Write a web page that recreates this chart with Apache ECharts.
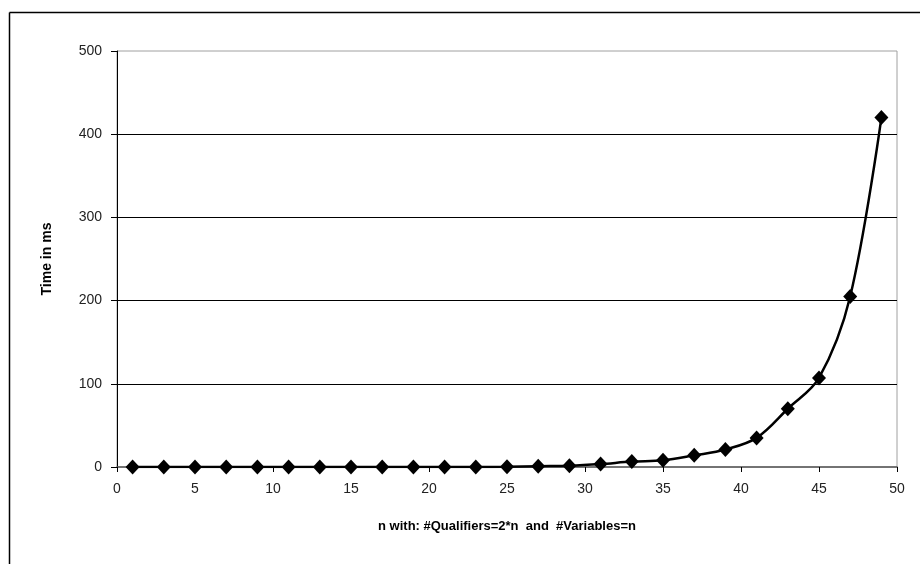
<!DOCTYPE html>
<html>
<head>
<meta charset="utf-8">
<script src="https://cdn.jsdelivr.net/npm/echarts@6/dist/echarts.min.js"></script>
<style>
html,body{margin:0;padding:0;background:#fff;}
#chart{width:920px;height:564px;}
</style>
</head>
<body>
<div id="chart"></div>
<script>
var nValues = [1,3,5,7,9,11,13,15,17,19,21,23,25,27,29,31,33,35,37,39,41,43,45,47,49];
var timeMs  = [0,0,0,0,0,0,0,0,0,0,0,0,0.3,1,1.5,3.5,6.5,8,14,21,35,70,107,205,420];
var xTitle = 'n with: #Qualifiers=2*n  and  #Variables=n';
var yTitle = 'Time in ms';

var data = nValues.map(function(n,i){ return [n, timeMs[i]]; });
var font = '"Liberation Sans Narrow", "Liberation Sans", Arial, sans-serif';
var chart = echarts.init(document.getElementById('chart'), null, {renderer:'canvas'});
chart.setOption({
  animation:false,
  backgroundColor:'#fff',
  graphic:[
    {type:'line', shape:{x1:9.5,y1:12.5,x2:920,y2:12.5}, style:{stroke:'#000',lineWidth:1.5}},
    {type:'line', shape:{x1:9.5,y1:12.5,x2:9.5,y2:564}, style:{stroke:'#000',lineWidth:1.5}}
  ],
  grid:{left:117,right:23,top:51,bottom:97,show:true,borderColor:'#a0a0a0',borderWidth:1,backgroundColor:'#fff'},
  xAxis:{
    type:'value', min:0, max:50, interval:5,
    name:xTitle, nameLocation:'middle', nameGap:53,
    nameTextStyle:{fontFamily:'"Liberation Sans", Arial, sans-serif',fontWeight:'bold',fontSize:13,color:'#000'},
    axisLine:{show:true,onZero:false,lineStyle:{color:'#555',width:1.5}},
    axisTick:{show:true,inside:false,length:5,lineStyle:{color:'#000'}},
    axisLabel:{fontFamily:font,fontSize:14,color:'#222',margin:15},
    splitLine:{show:false}
  },
  yAxis:{
    type:'value', min:0, max:500, interval:100,
    name:yTitle, nameLocation:'middle', nameGap:63, nameRotate:90,
    nameTextStyle:{fontFamily:'"Liberation Sans", Arial, sans-serif',fontWeight:'bold',fontSize:14,color:'#000'},
    axisLine:{show:true,lineStyle:{color:'#000',width:1}},
    axisTick:{show:true,inside:false,length:6,lineStyle:{color:'#000'}},
    axisLabel:{fontFamily:font,fontSize:14,color:'#222',margin:15},
    splitLine:{show:true,showMinLine:false,showMaxLine:false,lineStyle:{color:'#000',width:1}}
  },
  series:[{
    type:'line',
    data:data,
    smooth:0.35,
    symbol:'diamond',
    symbolSize:[14,15],
    lineStyle:{color:'#000',width:2.5},
    itemStyle:{color:'#000'},
    z:5
  }]
});
</script>
</body>
</html>
